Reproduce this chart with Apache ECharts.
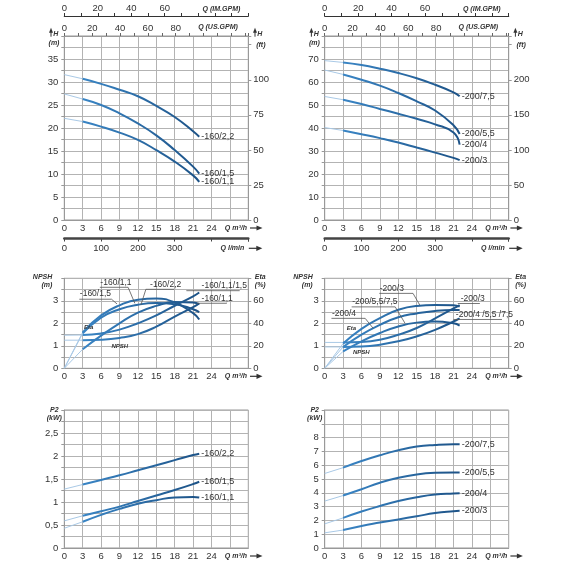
<!DOCTYPE html>
<html><head><meta charset="utf-8">
<script src="https://cdn.jsdelivr.net/npm/echarts@6/dist/echarts.min.js"></script>
<style>html,body{margin:0;padding:0;background:#fff}#c{width:570px;height:570px}</style>
</head><body><div id="c"></div>
<script>
// ---------- data ----------
const qPts = [0, 3, 6, 9, 12, 15, 18, 21, 22];            // Q m³/h
// H (m) – pumps 160
const h160_22 = [31.6, 30.7, 29.6, 28.3, 26.9, 24.8, 22.4, 19.3, 18.1];
const h160_15 = [27.4, 26.3, 25.0, 23.2, 21.0, 18.4, 15.2, 11.6, 10.1];
const h160_11 = [22.1, 21.4, 20.3, 19.0, 17.4, 15.2, 12.7, 9.7, 8.3];
// H (m) – pumps 200
const h200_75 = [69.3, 68.5, 67.4, 65.8, 63.9, 61.6, 58.8, 55.5, 53.8];
const h200_55 = [65.2, 63.3, 61.0, 58.4, 55.2, 51.6, 47.6, 41.2, 37.4];
const h200_4  = [53.7, 52.3, 50.4, 48.3, 46.2, 44.0, 41.6, 38.0, 32.8];
const h200_3  = [40.2, 38.9, 37.3, 35.6, 33.7, 31.5, 29.3, 27.0, 26.0];
// Eta (%) and NPSH (m) – pumps 160
const eta160_11 = [0, 32, 47, 56, 61, 62, 58.5, 49, 43.4];
const eta160_15 = [0, 31, 45, 52.5, 56.5, 58, 57, 52.5, 50];
const eta160_22 = [0, 17, 29, 40, 49.5, 55.5, 59, 58.5, 57];
const npsh160_a = [1.47, 1.48, 1.55, 1.72, 2.0, 2.35, 2.78, 3.2, 3.37];
const npsh160_b = [1.25, 1.25, 1.27, 1.35, 1.52, 1.85, 2.3, 2.72, 2.88];
// Eta (%) and NPSH (m) – pumps 200
const eta200_3  = [0, 22, 35, 44.5, 52, 55.4, 56.2, 56, 54.8];
const eta200_4  = [0, 19, 30, 38.6, 45.4, 48.8, 51, 51.8, 51.8];
const eta200_55 = [0, 15, 24, 31.4, 37.2, 40.6, 41.6, 40, 38];
const npsh200_3 = [1.15, 1.15, 1.17, 1.27, 1.49, 1.79, 2.22, 2.66, 2.81];
const npsh200_x = [0.95, 0.95, 0.97, 1.05, 1.2, 1.42, 1.71, 2.08, 2.22];
// P2 (kW)
const p160_22 = [1.28, 1.38, 1.48, 1.58, 1.69, 1.80, 1.91, 2.02, 2.05];
const p160_15 = [0.59, 0.70, 0.80, 0.90, 1.02, 1.14, 1.26, 1.39, 1.44];
const p160_11 = [0.43, 0.57, 0.72, 0.85, 0.96, 1.04, 1.10, 1.11, 1.10];
const p200_75 = [5.4, 5.82, 6.3, 6.72, 7.08, 7.35, 7.47, 7.52, 7.52];
const p200_55 = [3.4, 3.8, 4.26, 4.73, 5.09, 5.33, 5.45, 5.48, 5.48];
const p200_4  = [1.75, 2.18, 2.64, 3.04, 3.4, 3.68, 3.88, 3.95, 3.96];
const p200_3  = [1.1, 1.3, 1.6, 1.84, 2.07, 2.3, 2.53, 2.67, 2.7];
// curve labels
const lab160 = ['-160/2,2', '-160/1,5', '-160/1,1'];
const lab200 = ['-200/7,5', '-200/5,5', '-200/4', '-200/3'];

// unit conversions
const M3H_PER_USGPM = 0.227125, M3H_PER_IMGPM = 0.272765, LMIN_PER_M3H = 1000/60, FT_PER_M = 3.28084;
const QMAX = 30;

// ---------- layout ----------
const F = "'Liberation Sans Narrow','Liberation Sans',Arial,sans-serif";
const TF = 'italic bold 7px ' + F;
const GRID = '#b3b3b3', AX = '#999', TXT = '#333';
const grids = [
  {left: 64.3, top: 36, width: 184, height: 184},
  {left: 324.7, top: 36, width: 184, height: 184},
  {left: 64.3, top: 278.3, width: 184, height: 90},
  {left: 324.7, top: 278.3, width: 184, height: 90},
  {left: 64.3, top: 410, width: 184, height: 138},
  {left: 324.7, top: 410, width: 184, height: 138}
];
const near = (v, s) => Math.abs(v / s - Math.round(v / s)) < 1e-6;
const lbl = (o) => Object.assign({color: TXT, fontSize: 9.5, fontFamily: F}, o);

const yMain = [
  {max: 40, interval: 2.5, fmt: v => (near(v,5) && v <= 35) ? v : ''},
  {max: 80, interval: 5, fmt: v => (near(v,10) && v <= 70) ? v : ''},
  {max: 4, interval: 0.5, fmt: v => (near(v,1) && v <= 3) ? v : ''},
  {max: 4, interval: 0.5, fmt: v => (near(v,1) && v <= 3) ? v : ''},
  {max: 3, interval: 0.25, fmt: v => (near(v,0.5) && v <= 2.5) ? String(v).replace('.', ',') : ''},
  {max: 10, interval: 1, fmt: v => (v <= 8) ? v : ''}
];

const xAxes = [], yAxes = [], X = [], Y = [], YR = [];
grids.forEach((g, p) => {
  X[p] = xAxes.length;
  xAxes.push({type: 'value', gridIndex: p, min: 0, max: QMAX, interval: 3, position: 'bottom',
    axisLine: {show: true, onZero: false, lineStyle: {color: AX}}, axisTick: {show: false},
    axisLabel: lbl({margin: 3, formatter: v => v <= 24 ? v : ''}),
    splitLine: {show: true, lineStyle: {color: GRID, width: 1}}});
  Y[p] = yAxes.length;
  yAxes.push({type: 'value', gridIndex: p, min: 0, max: yMain[p].max, interval: yMain[p].interval, position: 'left',
    axisLine: {show: true, onZero: false, lineStyle: {color: AX}}, axisTick: {show: true, length: 3, lineStyle: {color: AX}},
    axisLabel: lbl({margin: 6, formatter: yMain[p].fmt}),
    splitLine: {show: true, lineStyle: {color: GRID, width: 1}}});
  if (p < 2) {
    xAxes.push({type: 'value', gridIndex: p, min: 0, max: QMAX / M3H_PER_USGPM, interval: 10, position: 'top', offset: 0,
      axisLine: {show: true, onZero: false, lineStyle: {color: AX}}, axisTick: {show: true, length: 3, lineStyle: {color: '#666'}},
      axisLabel: lbl({margin: 3, formatter: v => (near(v,20) && v <= 80) ? v : ''}), splitLine: {show: false}});
    xAxes.push({type: 'value', gridIndex: p, min: 0, max: QMAX / M3H_PER_IMGPM, interval: 10, position: 'top', offset: 20,
      axisLine: {show: true, onZero: false, lineStyle: {color: '#333', width: 1.2}}, axisTick: {show: true, length: 3, lineStyle: {color: '#333'}},
      axisLabel: lbl({margin: 3, formatter: v => (near(v,20) && v <= 60) ? v : ''}), splitLine: {show: false}});
    xAxes.push({type: 'value', gridIndex: p, min: 0, max: QMAX * LMIN_PER_M3H, interval: 100, position: 'bottom', offset: 18.5,
      axisLine: {show: true, onZero: false, lineStyle: {color: '#444', width: 2.5}}, axisTick: {show: true, length: 3, lineStyle: {color: '#444'}},
      axisLabel: lbl({margin: 5, formatter: v => v <= 300 ? v : ''}), splitLine: {show: false}});
    YR[p] = yAxes.length;
    const hm = yMain[p].max;
    yAxes.push({type: 'value', gridIndex: p, min: 0, max: hm * FT_PER_M, interval: p === 0 ? 25 : 50, position: 'right',
      axisLine: {show: true, onZero: false, lineStyle: {color: AX}}, axisTick: {show: true, length: 3, lineStyle: {color: AX}},
      axisLabel: lbl({margin: 5, formatter: v => v <= (p === 0 ? 100 : 200) ? v : ''}), splitLine: {show: false}});
  } else if (p < 4) {
    YR[p] = yAxes.length;
    yAxes.push({type: 'value', gridIndex: p, min: 0, max: 80, interval: 20, position: 'right',
      axisLine: {show: true, onZero: false, lineStyle: {color: AX}}, axisTick: {show: true, length: 3, lineStyle: {color: AX}},
      axisLabel: lbl({margin: 5, formatter: v => v <= 60 ? v : ''}), splitLine: {show: false}});
  }
});

// ---------- series ----------
const series = [];
const grad = () => new echarts.graphic.LinearGradient(0, 0, 1, 0, [{offset: 0, color: '#3a86c6'}, {offset: 1, color: '#1c5185'}]);
function curve(p, ys, useRight, label) {
  const xi = X[p], yi = useRight ? YR[p] : Y[p];
  const thin = [[qPts[0], ys[0]], [qPts[1], ys[1]]];
  const thick = qPts.slice(1).map((q, i) => [q, ys[i + 1]]);
  series.push({type: 'line', xAxisIndex: xi, yAxisIndex: yi, data: thin, symbol: 'none', silent: true,
    lineStyle: {color: '#a9c9e6', width: 1}, emphasis: {disabled: true}, animation: false, z: 3});
  const s = {type: 'line', xAxisIndex: xi, yAxisIndex: yi, data: thick, symbol: 'none', silent: true,
    smooth: 0.5, lineStyle: {color: grad(), width: 2}, emphasis: {disabled: true}, animation: false, z: 4};
  if (label) s.endLabel = {show: true, formatter: label, color: TXT, fontSize: 9, fontFamily: F, distance: 2};
  series.push(s);
}
[h160_22, h160_15, h160_11].forEach((d, i) => curve(0, d, false, lab160[i]));
[h200_75, h200_55, h200_4, h200_3].forEach((d, i) => curve(1, d, false, lab200[i]));
[eta160_11, eta160_15, eta160_22].forEach(d => curve(2, d, true));
[npsh160_a, npsh160_b].forEach(d => curve(2, d, false));
[eta200_3, eta200_4, eta200_55].forEach(d => curve(3, d, true));
[npsh200_3, npsh200_x].forEach(d => curve(3, d, false));
[p160_22, p160_15, p160_11].forEach((d, i) => curve(4, d, false, lab160[i]));
[p200_75, p200_55, p200_4, p200_3].forEach((d, i) => curve(5, d, false, lab200[i]));

const chart = echarts.init(document.getElementById('c'), null, {renderer: 'canvas', width: 570, height: 570});
chart.setOption({
  backgroundColor: '#fff',
  animation: false,
  grid: grids.map(g => Object.assign({show: true, borderColor: AX, borderWidth: 1, backgroundColor: 'transparent', containLabel: false, outerBoundsMode: 'none'}, g)),
  xAxis: xAxes, yAxis: yAxes, series: series
});

// ---------- annotations ----------
const ann = {
  2: [
    {t: '-160/1,5', at: [2.45, 3.07], line: [[2.45, 3.07], [7.7, 3.07], [8.6, 2.86]]},
    {t: '-160/1,1', at: [5.8, 3.6], line: [[5.8, 3.6], [10.4, 3.6], [11.5, 2.89]]},
    {t: '-160/2,2', at: [13.9, 3.51], line: [[12.5, 2.82], [13.3, 3.51], [17.9, 3.51]]},
    {t: '-160/1,1/1,5', at: [22.3, 3.45], line: [[19.9, 3.45], [28.6, 3.45]]},
    {t: '-160/1,1', at: [22.3, 2.89], line: [[21.6, 2.89], [26.5, 2.89]]}
  ],
  3: [
    {t: '-200/3', at: [8.9, 3.33], line: [[8.9, 3.33], [14.4, 3.33], [15.5, 2.81]]},
    {t: '-200/5,5/7,5', at: [4.4, 2.73], line: [[4.4, 2.73], [11.5, 2.73], [13.1, 2.0]]},
    {t: '-200/4', at: [1.1, 2.22], line: [[1.1, 2.22], [6.6, 2.22], [7.9, 1.78]]},
    {t: '-200/3', at: [22.1, 2.88], line: [[21.7, 2.88], [25.3, 2.88]]},
    {t: '-200/4 /5,5 /7,5', at: [21.3, 2.17], line: [[21.0, 2.17], [28.9, 2.17]]}
  ]
};
const small = {2: {eta: [3.2, 1.82], npsh: [7.7, 0.99]}, 3: {eta: [3.6, 1.78], npsh: [4.6, 0.69]}};

const G = [];
const P = (p, q, m) => chart.convertToPixel({xAxisIndex: X[p], yAxisIndex: Y[p]}, [q, m]);
function txt(x, y, s, align, font, va) {
  G.push({type: 'text', x: x, y: y, z: 100, silent: true,
    style: {text: s, fill: TXT, font: font || ('9px ' + F), align: align || 'left', verticalAlign: va || 'middle'}});
}
function poly(pts, color, w) {
  G.push({type: 'polyline', z: 90, silent: true, shape: {points: pts}, style: {stroke: color || '#555', lineWidth: w || 0.8, fill: null}});
}
function arrowRight(x0, y, len) {
  poly([[x0, y], [x0 + len - 4, y]], '#333', 1.2);
  G.push({type: 'polygon', z: 90, silent: true, shape: {points: [[x0 + len - 6, y - 2.6], [x0 + len, y], [x0 + len - 6, y + 2.6]]}, style: {fill: '#333'}});
}
function arrowUp(x, tip, len) {
  G.push({type: 'polygon', z: 90, silent: true, shape: {points: [[x - 2, tip + 5], [x, tip], [x + 2, tip + 5]]}, style: {fill: '#333'}});
  poly([[x, tip + 4], [x, tip + len]], '#333', 1);
}

grids.forEach((g, p) => {
  const R = g.left + g.width, B = g.top + g.height;
  txt(R - 1.3, B + 8, 'Q m³/h', 'right', TF);
  arrowRight(R + 1.7, B + 8, 12.5);
  if (p < 2) {
    arrowUp(g.left - 13.3, g.top - 8.3, 9);
    txt(g.left - 11, g.top - 1.5, 'H', 'left', TF);
    txt(g.left - 10.3, g.top + 7.5, '(m)', 'center', TF);
    arrowUp(R + 6.7, g.top - 8.3, 9);
    txt(R + 9, g.top - 1.5, 'H', 'left', TF);
    txt(R + 12.5, g.top + 8.7, '(ft)', 'center', TF);
    txt(R - 8, g.top - 26.7, 'Q (IM.GPM)', 'right', TF);
    txt(R - 10.5, g.top - 8.8, 'Q (US.GPM)', 'right', TF);
    txt(R - 4, B + 28.3, 'Q l/min', 'right', TF);
    arrowRight(R + 0.5, B + 28.3, 13.5);
  } else if (p < 4) {
    txt(g.left - 12, g.top - 1.5, 'NPSH', 'right', TF);
    txt(g.left - 12, g.top + 6.7, '(m)', 'right', TF);
    txt(R + 6.5, g.top - 1.5, 'Eta', 'left', TF);
    txt(R + 6.5, g.top + 6.7, '(%)', 'left', TF);
    ann[p].forEach(a => {
      poly(a.line.map(pt => P(p, pt[0], pt[1])));
      const at = P(p, a.at[0], a.at[1]);
      txt(at[0] + 0.5, at[1] - 0.6, a.t, 'left', '8.5px ' + F, 'bottom');
    });
    const e = P(p, small[p].eta[0], small[p].eta[1]);
    txt(e[0], e[1], 'Eta', 'left', 'italic bold 6px ' + F);
    const n = P(p, small[p].npsh[0], small[p].npsh[1]);
    txt(n[0], n[1], 'NPSH', 'left', 'italic bold 6px ' + F);
  } else {
    txt(g.left - 10, g.top, 'P2', 'center', TF);
    txt(g.left - 10, g.top + 8.3, '(kW)', 'center', TF);
  }
});
chart.setOption({graphic: {elements: G}});
</script></body></html>
